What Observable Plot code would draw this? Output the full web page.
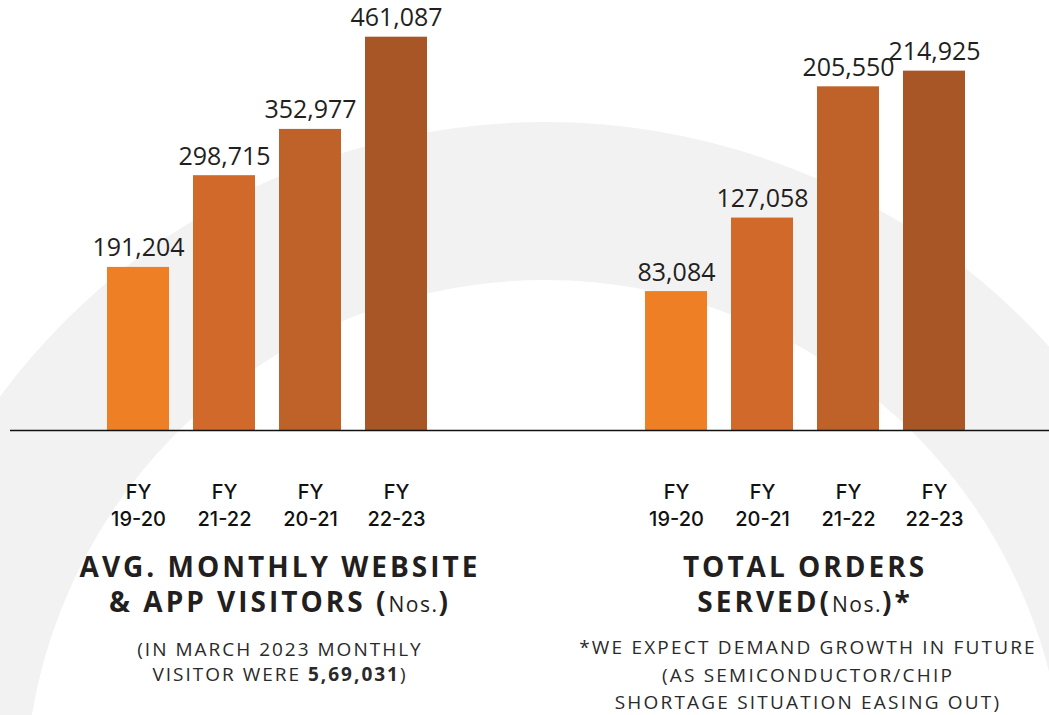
<!DOCTYPE html>
<html>
<head>
<meta charset="utf-8">
<script src="https://cdn.jsdelivr.net/npm/d3@7"></script>
<script src="https://cdn.jsdelivr.net/npm/@observablehq/plot@0.6"></script>
<style>
  html, body { margin: 0; padding: 0; background: #fff; }
  #page { position: relative; width: 1049px; height: 715px; overflow: hidden; background: #fff; }
  .ring { position: absolute; left: -133px; top: 122px; width: 1356px; height: 1356px;
          border-radius: 50%; border: 158px solid #f2f2f2; box-sizing: border-box; }
  .plotbox { position: absolute; top: 0; }
  .plotbox svg { background: transparent !important; max-width: none !important; }
  .title { position: absolute; text-align: center; font-family: "Open Sans", sans-serif;
           font-weight: 700; font-size: 28px; line-height: 35px; color: #231f20; letter-spacing: 3px; white-space: nowrap; }
  .title .nos { font-weight: 400; font-size: 21px; letter-spacing: 1.5px; }
  .note { position: absolute; text-align: center; font-family: "Open Sans", sans-serif;
          font-weight: 400; font-size: 19px; color: #2a2a2a; letter-spacing: 2px; white-space: nowrap; }
</style>
</head>
<body>
<div id="page">
  <div class="ring"></div>
  <div id="left" class="plotbox" style="left:0px;width:525px"></div>
  <div id="right" class="plotbox" style="left:525px;width:524px"></div>
  <div class="title" style="left:30px;width:500px;top:549px">AVG. MONTHLY WEBSITE<br>&amp; APP VISITORS (<span class="nos">Nos.</span>)</div>
  <div class="note" style="left:30px;width:500px;top:637px;line-height:25px">(IN MARCH 2023 MONTHLY<br>VISITOR WERE <b>5,69,031</b>)</div>
  <div class="title" style="left:555px;width:500px;top:549px">TOTAL ORDERS<br>SERVED(<span class="nos">Nos.</span>)*</div>
  <div class="note" style="left:558px;width:500px;top:634px;line-height:27.5px;letter-spacing:2.2px">*WE EXPECT DEMAND GROWTH IN FUTURE<br>(AS SEMICONDUCTOR/CHIP<br>SHORTAGE SITUATION EASING OUT)</div>
</div>
<script>
// ---- data ----
const leftCategories = ["19-20", "21-22", "20-21", "22-23"];
const leftValues = [191204, 298715, 352977, 461087];
const rightCategories = ["19-20", "20-21", "21-22", "22-23"];
const rightValues = [83084, 127058, 205550, 214925];
const barColors = ["#ee7f24", "#d0692a", "#bf6229", "#a95627"];

function chart({cats, vals, width, xRange, yMax, yTop, marginLeft}) {
  const data = cats.map((c, i) => ({cat: c, value: vals[i]}));
  return Plot.plot({
    width, height: 530,
    marginTop: 0, marginBottom: 100, marginLeft, marginRight: 0,
    style: {background: "transparent", overflow: "visible"},
    x: {type: "band", domain: cats, range: xRange, padding: 0.28, label: null},
    y: {domain: [0, yMax], range: [430, yTop], axis: null},
    color: {domain: cats, range: barColors},
    marks: [
      Plot.barY(data, {x: "cat", y: "value", fill: "cat"}),
      Plot.ruleY([0], {stroke: "#111", strokeWidth: 1.6}),
      Plot.text(data, {x: "cat", y: "value", text: d => d3.format(",")(d.value),
        lineAnchor: "bottom", dy: -11, fontSize: 25, fill: "#231f20", fontFamily: "Open Sans"}),
      Plot.axisX({tickSize: 0, tickPadding: 49, tickFormat: d => `FY\n${d}`,
        fontSize: 20, fontWeight: 500, fontFamily: "Inter", lineHeight: 1.35, fill: "#111", label: null})
    ]
  });
}

document.getElementById("left").append(chart({
  cats: leftCategories, vals: leftValues, width: 525,
  xRange: [81.8, 452], yMax: 500000, yTop: 3.5, marginLeft: 10
}));
document.getElementById("right").append(chart({
  cats: rightCategories, vals: rightValues, width: 524,
  xRange: [94.8, 464.2], yMax: 250000, yTop: 12, marginLeft: 0
}));
</script>
</body>
</html>
